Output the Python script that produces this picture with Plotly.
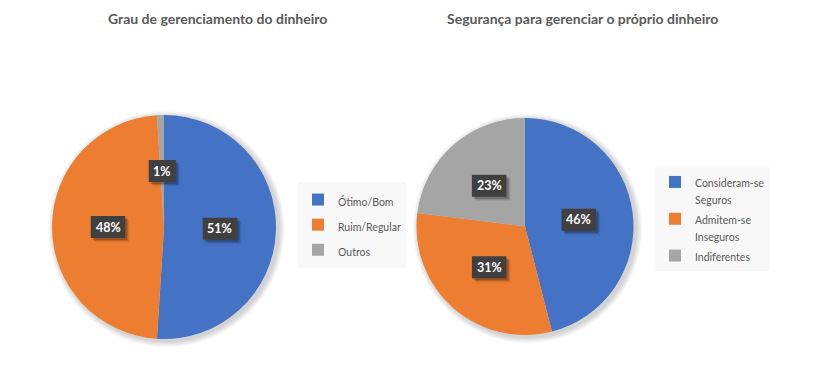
import math
import plotly.graph_objects as go

W, H = 816, 391

title1 = "Grau de gerenciamento do dinheiro"
labels1 = ["Ótimo/Bom", "Ruim/Regular", "Outros"]
values1 = [51, 48, 1]

title2 = "Segurança para gerenciar o próprio dinheiro"
labels2 = ["Consideram-se<br>Seguros", "Admitem-se<br>Inseguros", "Indiferentes"]
values2 = [46, 31, 23]

colors = ["#4472C4", "#ED7D31", "#A5A5A5"]

dom1 = dict(x=[52 / W, 276 / W], y=[(H - 339) / H, (H - 115) / H])
dom2 = dict(x=[416 / W, 634 / W], y=[(H - 335) / H, (H - 118) / H])


def small(lbls, size=10.5):
    return ['<span style="font-size:%spx">%s</span>' % (size, t.replace("<br>", '</span><br><span style="font-size:%spx">' % size)) for t in lbls]


fig = go.Figure()
fig.add_trace(go.Pie(labels=small(labels1), values=values1, domain=dom1, sort=False,
                     direction="clockwise", rotation=0, textinfo="none",
                     marker=dict(colors=colors, line=dict(width=0)),
                     legend="legend", hoverinfo="label+percent"))
fig.add_trace(go.Pie(labels=small(labels2), values=values2, domain=dom2, sort=False,
                     direction="clockwise", rotation=0, textinfo="none",
                     marker=dict(colors=colors, line=dict(width=0)),
                     legend="legend2", hoverinfo="label+percent"))

annotations = []
shapes = []


def geom(dom):
    x0, x1 = dom["x"][0] * W, dom["x"][1] * W
    y0, y1 = (1 - dom["y"][1]) * H, (1 - dom["y"][0]) * H
    cx, cy = (x0 + x1) / 2, (y0 + y1) / 2
    r = min(x1 - x0, y1 - y0) / 2
    return cx, cy, r


def add_labels(values, dom):
    cx, cy, r = geom(dom)
    total = sum(values)
    cum = 0
    for v in values:
        mid = (cum + v / 2) / total * 2 * math.pi
        cum += v
        px = cx + 0.5 * r * math.sin(mid)
        py = cy - 0.5 * r * math.cos(mid)
        txt = "%d%%" % round(v / total * 100)
        bw = 7.5 * len(txt) + 12
        bh = 22
        # soft shadow behind label box
        for k, a in ((3, 0.08), (2, 0.12), (1, 0.18)):
            shapes.append(dict(
                type="rect", xref="paper", yref="paper", layer="above",
                x0=(px - bw / 2 + 1 + k) / W, x1=(px + bw / 2 + 1 + k) / W,
                y0=1 - (py + bh / 2 + 1 + k) / H, y1=1 - (py - bh / 2 + 1 + k) / H,
                fillcolor="rgba(0,0,0,%s)" % a, line=dict(width=0),
            ))
        shapes.append(dict(
            type="rect", xref="paper", yref="paper", layer="above",
            x0=(px - bw / 2) / W, x1=(px + bw / 2) / W,
            y0=1 - (py + bh / 2) / H, y1=1 - (py - bh / 2) / H,
            fillcolor="#404040", line=dict(width=0),
        ))
        annotations.append(dict(
            x=px / W, y=1 - py / H, xref="paper", yref="paper",
            xanchor="center", yanchor="middle",
            text="<b>" + txt + "</b>", showarrow=False,
            font=dict(family="Lato, sans-serif", size=12.5, color="white"),
        ))


def add_shadow(dom):
    cx, cy, r = geom(dom)
    for k in range(1, 6):
        rr = r + k * 1.2
        ox, oy = 2.5, 2.0
        shapes.append(dict(
            type="circle", xref="paper", yref="paper", layer="below",
            x0=(cx + ox - rr) / W, x1=(cx + ox + rr) / W,
            y0=1 - (cy + oy + rr) / H, y1=1 - (cy + oy - rr) / H,
            fillcolor="rgba(0,0,0,0.035)", line=dict(width=0),
        ))


add_shadow(dom1)
add_shadow(dom2)
add_labels(values1, dom1)
add_labels(values2, dom2)

annotations.append(dict(x=217 / W, y=1 - 18 / H, xref="paper", yref="paper",
                        xanchor="center", yanchor="middle",
                        text="<b>" + title1 + "</b>", showarrow=False,
                        font=dict(family="Lato, sans-serif", size=14, color="#595959")))
annotations.append(dict(x=582 / W, y=1 - 18 / H, xref="paper", yref="paper",
                        xanchor="center", yanchor="middle",
                        text="<b>" + title2 + "</b>", showarrow=False,
                        font=dict(family="Lato, sans-serif", size=14, color="#595959")))

fig.update_layout(
    width=W, height=H, margin=dict(l=0, r=0, t=0, b=0),
    paper_bgcolor="white", plot_bgcolor="white",
    showlegend=True,
    legend=dict(x=298 / W, y=1 - 182 / H, bgcolor="#F8F8F8",
                font=dict(family="Lato, sans-serif", size=17, color="#595959"),
                xanchor="left", yanchor="top", orientation="v", itemwidth=30),
    legend2=dict(x=655 / W, y=1 - 167 / H, bgcolor="#F8F8F8",
                 font=dict(family="Lato, sans-serif", size=13, color="#595959"),
                 xanchor="left", yanchor="top", orientation="v", itemwidth=30, valign="top"),
    annotations=annotations,
    shapes=shapes,
)

fig.write_html("out.html", config={"displayModeBar": False})

with open("out.html", encoding="utf-8") as f:
    html = f.read()
html = html.replace("<head>", "<head><style>html,body{margin:0;padding:0;overflow:hidden;}</style>", 1)
with open("out.html", "w", encoding="utf-8") as f:
    f.write(html)
